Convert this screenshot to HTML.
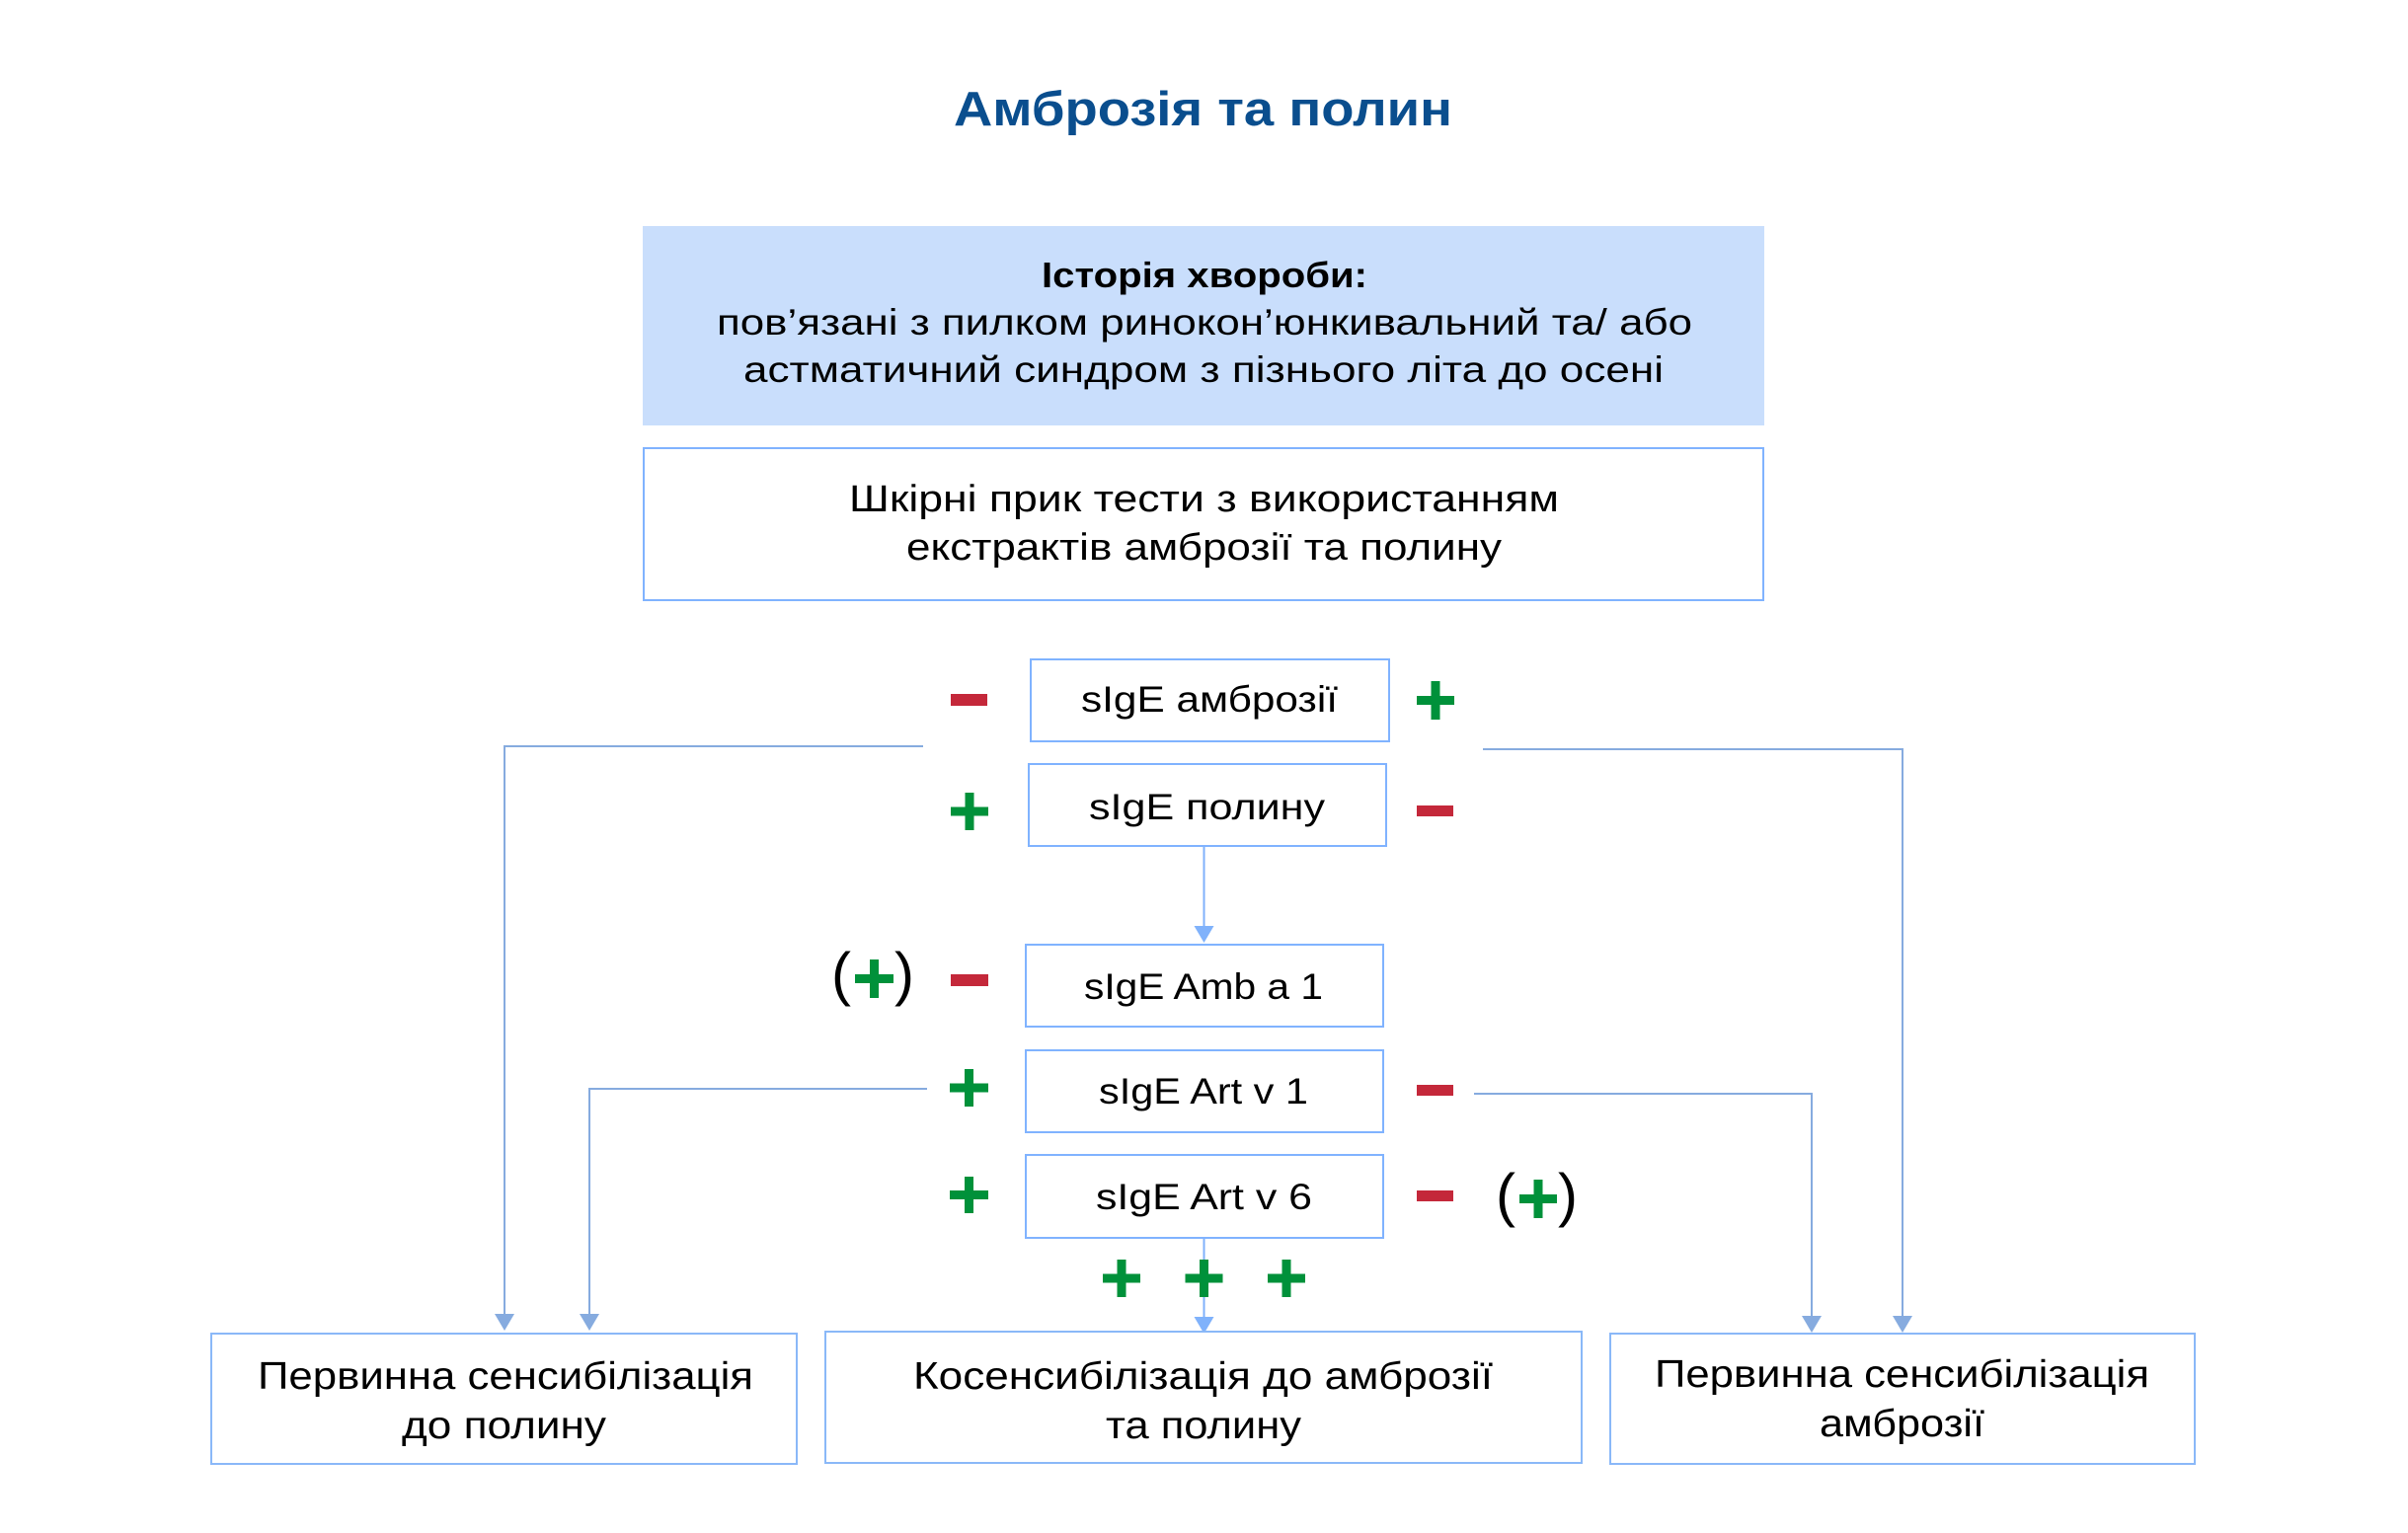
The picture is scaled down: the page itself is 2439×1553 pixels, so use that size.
<!DOCTYPE html>
<html>
<head>
<meta charset="utf-8">
<style>
  html, body { margin: 0; padding: 0; background: #ffffff; }
  body { width: 2439px; height: 1553px; overflow: hidden; }
  svg { display: block; }
  text { font-family: "Liberation Sans", "DejaVu Sans", sans-serif; fill: #000; }
</style>
</head>
<body>
<svg width="2439" height="1553" viewBox="0 0 2439 1553" xmlns="http://www.w3.org/2000/svg">
  <rect x="0" y="0" width="2439" height="1553" fill="#ffffff"/>

  <!-- Title -->
  <text x="966" y="127" font-size="49" font-weight="bold" style="fill:#0a4e8e" textLength="505" lengthAdjust="spacingAndGlyphs">Амброзія та полин</text>

  <!-- History box -->
  <rect x="651" y="229" width="1136" height="202" fill="#c9defc"/>
  <text x="1055" y="291" font-size="36" font-weight="bold" textLength="330" lengthAdjust="spacingAndGlyphs">Історія хвороби:</text>
  <text x="726" y="339" font-size="37" textLength="988" lengthAdjust="spacingAndGlyphs">пов’язані з пилком ринокон’юнкивальний та/ або</text>
  <text x="753" y="387" font-size="37" textLength="932" lengthAdjust="spacingAndGlyphs">астматичний синдром з пізнього літа до осені</text>

  <!-- Skin prick box -->
  <rect x="652" y="454" width="1134" height="154" fill="#fff" stroke="#80b3ff" stroke-width="2"/>
  <text x="860" y="518" font-size="38" textLength="719" lengthAdjust="spacingAndGlyphs">Шкірні прик тести з використанням</text>
  <text x="918" y="567" font-size="38" textLength="603" lengthAdjust="spacingAndGlyphs">екстрактів амброзії та полину</text>

  <!-- Connectors (side) -->
  <g fill="none" stroke="#86abdf" stroke-width="2">
    <polyline points="935,756 511,756 511,1332"/>
    <polyline points="1502,759 1927,759 1927,1334"/>
    <polyline points="939,1103 597,1103 597,1332"/>
    <polyline points="1493,1108 1835,1108 1835,1334"/>
  </g>
  <g fill="#86abdf">
    <polygon points="501,1331 521,1331 511,1348"/>
    <polygon points="587,1331 607,1331 597,1348"/>
    <polygon points="1825,1333 1845,1333 1835,1350"/>
    <polygon points="1917,1333 1937,1333 1927,1350"/>
  </g>

  <!-- Connectors (center) -->
  <g fill="none" stroke="#80b2fb" stroke-width="2">
    <line x1="1219.5" y1="857" x2="1219.5" y2="940"/>
    <line x1="1219.5" y1="1254" x2="1219.5" y2="1337"/>
  </g>
  <g fill="#80b2fb">
    <polygon points="1209.5,938 1229.5,938 1219.5,955"/>
    <polygon points="1209.5,1334 1229.5,1334 1219.5,1351"/>
  </g>

  <!-- sIgE boxes -->
  <g fill="#fff" stroke="#80b3ff" stroke-width="2">
    <rect x="1044" y="668" width="363" height="83"/>
    <rect x="1042" y="774" width="362" height="83"/>
    <rect x="1039" y="957" width="362" height="83"/>
    <rect x="1039" y="1064" width="362" height="83"/>
    <rect x="1039" y="1170" width="362" height="84"/>
  </g>
  <text x="1095" y="721" font-size="37" textLength="260" lengthAdjust="spacingAndGlyphs">sIgE амброзії</text>
  <text x="1103" y="830" font-size="37" textLength="239" lengthAdjust="spacingAndGlyphs">sIgE полину</text>
  <text x="1098" y="1012" font-size="37" textLength="242" lengthAdjust="spacingAndGlyphs">sIgE Amb a 1</text>
  <text x="1113" y="1118" font-size="37" textLength="212" lengthAdjust="spacingAndGlyphs">sIgE Art v 1</text>
  <text x="1110" y="1225" font-size="37" textLength="219" lengthAdjust="spacingAndGlyphs">sIgE Art v 6</text>

  <!-- Minus signs (red) -->
  <g fill="#c4283a">
    <rect x="963" y="703" width="37" height="12"/>
    <rect x="1435" y="816" width="37" height="11"/>
    <rect x="963" y="987" width="38" height="12"/>
    <rect x="1435" y="1099" width="37" height="11"/>
    <rect x="1435" y="1206" width="37" height="11"/>
  </g>

  <!-- Plus signs (green) -->
  <g fill="#00913a">
    <!-- right of амброзії, center 1454,709.5 -->
    <rect x="1435" y="705" width="38" height="9"/>
    <rect x="1449.5" y="690" width="9" height="39"/>
    <!-- left of полину, center 982,822 -->
    <rect x="963" y="817.5" width="38" height="9"/>
    <rect x="977.5" y="803" width="9" height="38"/>
    <!-- (+) Amb a 1, center 885.5,991.5 -->
    <rect x="866" y="987" width="39" height="9"/>
    <rect x="881" y="972" width="9" height="39"/>
    <!-- left Art v 1, center 981.5,1102 -->
    <rect x="962" y="1097.5" width="39" height="9"/>
    <rect x="977" y="1083" width="9" height="38"/>
    <!-- left Art v 6, center 981.5,1210.5 -->
    <rect x="962" y="1206" width="39" height="9"/>
    <rect x="977" y="1192" width="9" height="37"/>
    <!-- (+) right Art v 6, center 1558,1214.5 -->
    <rect x="1539" y="1210" width="38" height="9"/>
    <rect x="1553.5" y="1195" width="9" height="39"/>
    <!-- three pluses, center y 1295 -->
    <rect x="1117" y="1290.5" width="38" height="9"/>
    <rect x="1131.5" y="1276" width="9" height="38"/>
    <rect x="1200.5" y="1290.5" width="38" height="9"/>
    <rect x="1215" y="1276" width="9" height="38"/>
    <rect x="1284" y="1290.5" width="38" height="9"/>
    <rect x="1298.5" y="1276" width="9" height="38"/>
  </g>

  <!-- Parentheses -->
  <text x="842" y="1007" font-size="60">(</text>
  <text x="906" y="1007" font-size="60">)</text>
  <text x="1515" y="1231" font-size="60">(</text>
  <text x="1578" y="1231" font-size="60">)</text>

  <!-- Bottom boxes -->
  <g fill="#fff" stroke="#8ab8f8" stroke-width="2">
    <rect x="214" y="1351" width="593" height="132"/>
    <rect x="836" y="1349" width="766" height="133"/>
    <rect x="1631" y="1351" width="592" height="132"/>
  </g>
  <text x="261" y="1407" font-size="39" textLength="502" lengthAdjust="spacingAndGlyphs">Первинна сенсибілізація</text>
  <text x="407" y="1457" font-size="39" textLength="207" lengthAdjust="spacingAndGlyphs">до полину</text>

  <text x="925" y="1407" font-size="39" textLength="587" lengthAdjust="spacingAndGlyphs">Косенсибілізація до амброзії</text>
  <text x="1120" y="1457" font-size="39" textLength="198" lengthAdjust="spacingAndGlyphs">та полину</text>

  <text x="1676" y="1405" font-size="39" textLength="501" lengthAdjust="spacingAndGlyphs">Первинна сенсибілізація</text>
  <text x="1843" y="1455" font-size="39" textLength="167" lengthAdjust="spacingAndGlyphs">амброзії</text>
</svg>
</body>
</html>
